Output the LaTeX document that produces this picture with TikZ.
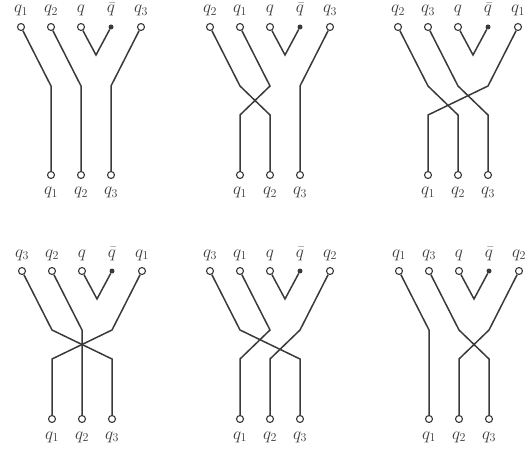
\documentclass[tikz,border=0pt]{standalone}
\usetikzlibrary{positioning, calc}
\definecolor{StrandGray}{HTML}{3A3A3A}

\begin{document}
\begin{tikzpicture}[
    x=1pt, y=-1pt,
    % Extremos abiertos
    endpoint/.style={
            circle,
            draw=StrandGray,
            line width=1.1pt,
            fill=white,
            inner sep=0pt,
            minimum size=7pt
        },
    % Antiquark (punto lleno)
    antiquark/.style={
            circle,
            fill=StrandGray,
            inner sep=0pt,
            minimum size=5pt
        },
    % Etiquetas
    qlabel/.style={
            anchor=base,
            inner sep=0.5pt,
            font=\LARGE,
            text=StrandGray
        },
    % Lineas
    strand/.style={
            line width=1.5pt,
            color=StrandGray
        }
    ]

    \useasboundingbox (0,0) rectangle (530,449);

    % ========== PANELES: nombre/origen/permutacion ==========
    \foreach \p/\ox/\oy/\a/\b/\c in {A/21/27/1/2/3, B/210/27/2/1/3, C/398/27/2/3/1,
                                     D/22/271/3/2/1, E/210/271/3/1/2, F/399/271/1/3/2} {

        % ========== EXTREMOS SUPERIORES ==========
        \node[endpoint] (\p-t1) at (\ox,\oy) {};
        \node[endpoint] (\p-t2) at (\ox+30,\oy) {};
        \node[endpoint] (\p-t3) at (\ox+60,\oy) {};
        \node[antiquark] (\p-t4) at (\ox+90,\oy) {};
        \node[endpoint] (\p-t5) at (\ox+120,\oy) {};

        \node[qlabel] (\p-n1) at (\ox,\oy-14) {$q_\a$};
        \node[qlabel] (\p-n2) at (\ox+30,\oy-14) {$q_\b$};
        \node[qlabel] (\p-n3) at (\ox+60,\oy-14) {$q$};
        \node[qlabel] (\p-n4) at (\ox+90,\oy-14) {$\bar{q}$};
        \node[qlabel] (\p-n5) at (\ox+120,\oy-14) {$q_\c$};

        % ========== EXTREMOS INFERIORES ==========
        \node[endpoint] (\p-b1) at (\ox+30,\oy+148) {};
        \node[endpoint] (\p-b2) at (\ox+60,\oy+148) {};
        \node[endpoint] (\p-b3) at (\ox+90,\oy+148) {};

        \node[qlabel] (\p-m1) at (\ox+30,\oy+168) {$q_1$};
        \node[qlabel] (\p-m2) at (\ox+60,\oy+168) {$q_2$};
        \node[qlabel] (\p-m3) at (\ox+90,\oy+168) {$q_3$};

        % Puntos de quiebre
        \coordinate (\p-v) at (\ox+75,\oy+28);
        \coordinate (\p-u1) at (\ox+30,\oy+59);
        \coordinate (\p-u2) at (\ox+60,\oy+59);
        \coordinate (\p-u3) at (\ox+90,\oy+59);
        \coordinate (\p-l1) at (\ox+30,\oy+88);
        \coordinate (\p-l2) at (\ox+60,\oy+88);
        \coordinate (\p-l3) at (\ox+90,\oy+88);

        % ========== LINEAS ==========
        \draw[strand] (\p-t3) -- (\p-v) -- (\p-t4);
        \draw[strand] (\p-t1) -- (\p-u1) -- (\p-l\a) -- (\p-b\a);
        \draw[strand] (\p-t2) -- (\p-u2) -- (\p-l\b) -- (\p-b\b);
        \draw[strand] (\p-t5) -- (\p-u3) -- (\p-l\c) -- (\p-b\c);
    }

\end{tikzpicture}
\end{document}
